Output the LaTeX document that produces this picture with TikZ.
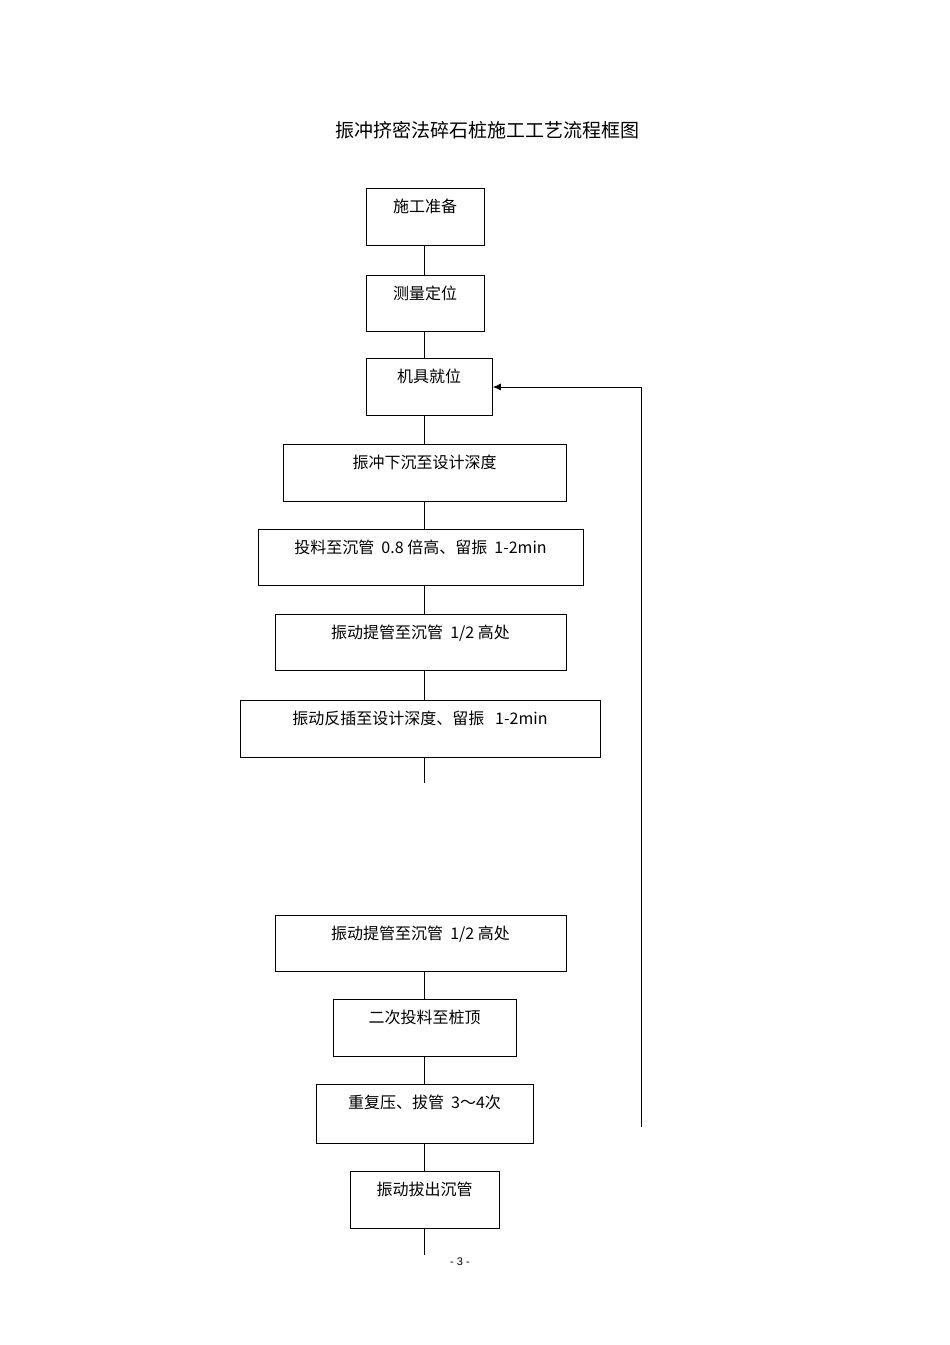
\documentclass[tikz,border=0pt]{standalone}
\usepackage{fontspec}
\setmainfont{Liberation Sans}
\newfontfamily\cjk{Noto Sans CJK SC}
\usetikzlibrary{arrows.meta}
\begin{document}
\begin{tikzpicture}[x=1pt,y=-1pt,
  box/.style={draw,line width=0.8pt,inner sep=0pt},
  lbl/.style={font=\cjk\fontsize{16}{18}\selectfont,anchor=north,inner sep=0pt},
  ln/.style={line width=1pt}]
\useasboundingbox (0,0) rectangle (950,1345);
\node[font=\cjk\fontsize{19}{22}\selectfont] (title) at (487,130) {振冲挤密法碎石桩施工工艺流程框图};
\newcommand{\bx}[6]{%
  \node[box,minimum width=#4-#2,minimum height=#5-#3,anchor=north west] (#1) at (#2,#3) {};
  \node[lbl] (#1t) at ({(#2+#4)/2},#3+11) {#6};}
\bx{b1}{366}{188}{484}{245}{施工准备}
\bx{b2}{366}{275}{484}{331}{测量定位}
\bx{b3}{366}{358}{492}{415}{机具就位}
\bx{b4}{283}{444}{566}{501}{振冲下沉至设计深度}
\bx{b5}{258}{529}{583}{585}{投料至沉管\ \ 0.8\ 倍高、留振\ \ 1-2min}
\bx{b6}{275}{614}{566}{670}{振动提管至沉管\ \ 1/2\ 高处}
\bx{b7}{240}{700}{600}{757}{振动反插至设计深度、留振\ \ \ 1-2min}
\bx{b8}{275}{915}{566}{971}{振动提管至沉管\ \ 1/2\ 高处}
\bx{b9}{333}{999}{516}{1056}{二次投料至桩顶}
\bx{b10}{316}{1084}{533}{1143}{重复压、拔管\ \ 3～4次}
\bx{b11}{350}{1171}{499}{1228}{振动拔出沉管}
\coordinate (L) at (424,0);
\foreach \a/\b in {b1/b2,b2/b3,b3/b4,b4/b5,b5/b6,b6/b7,b8/b9,b9/b10,b10/b11}
  \draw[ln] (\a.south -| L) -- (\b.north -| L);
\coordinate (e7) at (424,783);
\draw[ln] (b7.south -| L) -- (e7);
\coordinate (e11) at (424,1255);
\draw[ln] (b11.south -| L) -- (e11);
\coordinate (fb) at (641,1127);
\coordinate (fc) at (641,387);
\draw[ln,-{Latex[length=8pt,width=7pt]}] (fb) -- (fc) -- (b3.east |- fc);
\node[font=\fontsize{11}{13}\selectfont] (pg) at (460,1262) {-\ 3\ -};
\end{tikzpicture}
\end{document}
